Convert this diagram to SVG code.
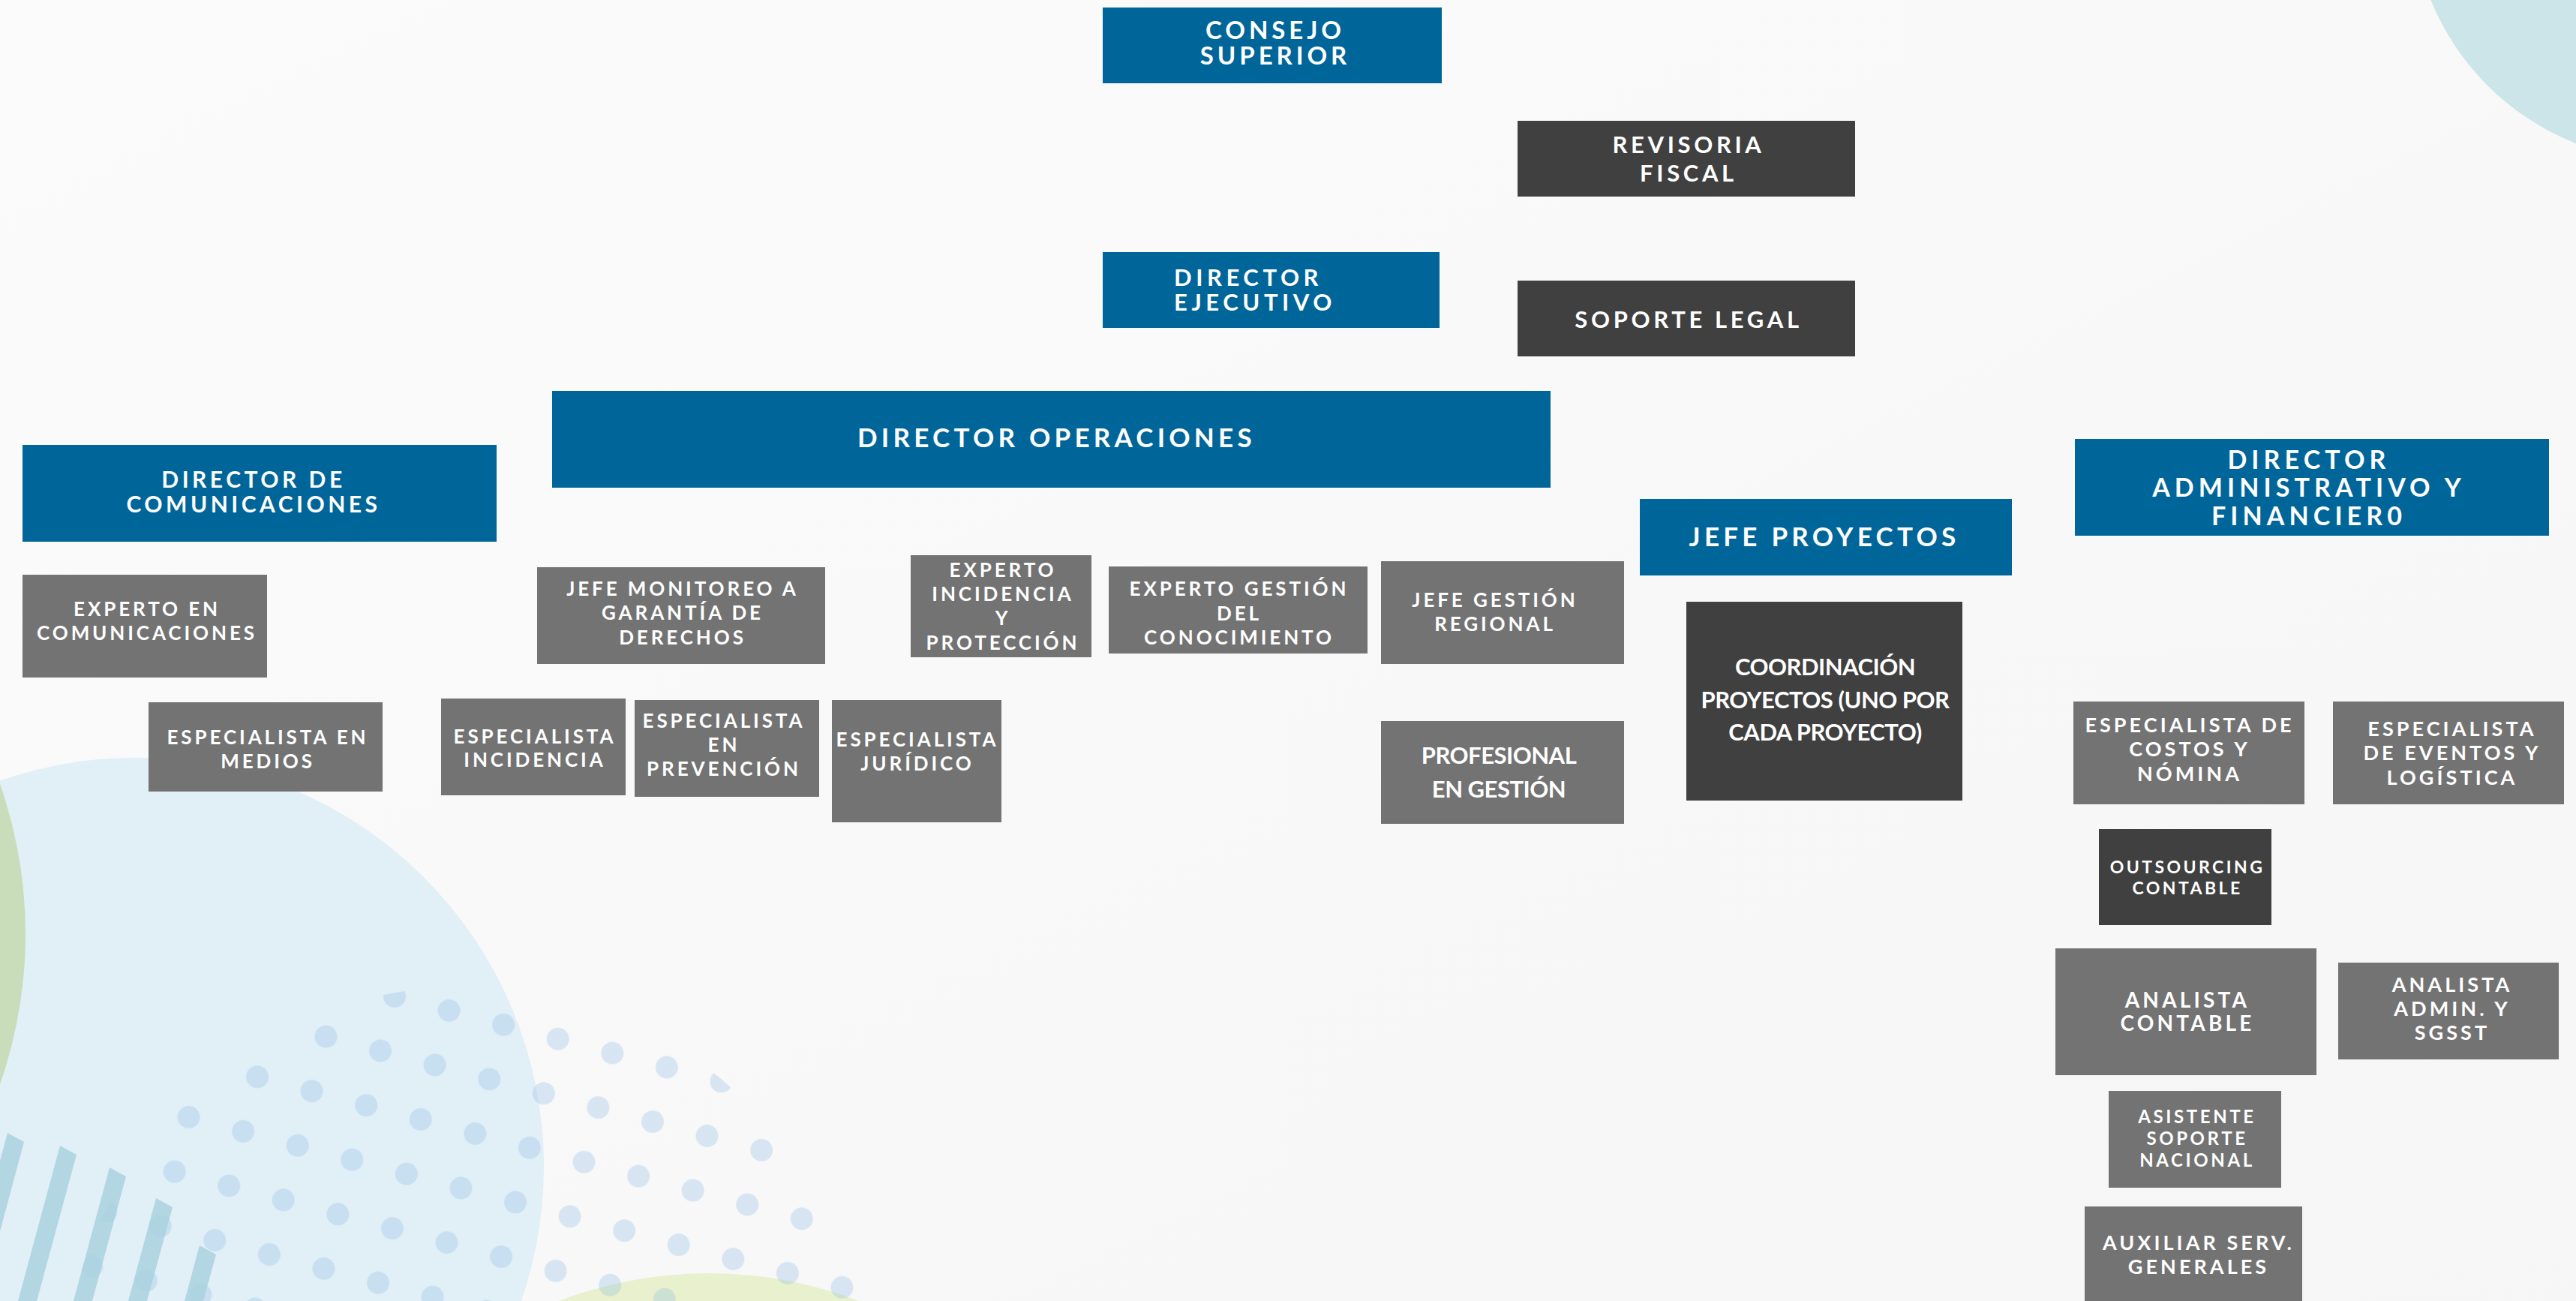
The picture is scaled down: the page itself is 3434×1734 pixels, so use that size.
<svg xmlns="http://www.w3.org/2000/svg" width="3434" height="1734" viewBox="0 0 3434 1734">
<defs>
<style>
.blue{fill:#00669a}
.dark{fill:#404040}
.gray{fill:#737373}
text{font-family:Lato,"Open Sans","Liberation Sans",sans-serif;font-weight:700;fill:#ffffff;text-anchor:middle;letter-spacing:0.15em}
.cond{letter-spacing:-0.5px;font-weight:700}
.wide{letter-spacing:0.18em}
</style>
<linearGradient id="bg" x1="0" y1="0" x2="1" y2="1">
<stop offset="0" stop-color="#fbfbfb"/>
<stop offset="1" stop-color="#f6f6f6"/>
</linearGradient>
<pattern id="dots" patternUnits="userSpaceOnUse" x="-37.5" y="-37.5" width="75" height="75" patternTransform="translate(526 1328) rotate(14.6)">
<circle cx="37.5" cy="37.5" r="15" fill="#8fc0e4" fill-opacity="0.32"/>
</pattern>
</defs>
<rect width="3434" height="1734" fill="url(#bg)"/>
<!-- decorative background -->
<circle cx="3560" cy="-130" r="345" fill="#cbe5e9"/>
<circle cx="180" cy="1555" r="545" fill="#e1eff6"/>
<circle cx="-571" cy="1245" r="605" fill="#c9ddba"/>
<circle cx="945" cy="2256" r="559" fill="#e9f0cd"/>
<circle cx="620" cy="1850" r="535" fill="url(#dots)"/>
<g fill="#a9d2de" fill-opacity="0.85">
<polygon points="10,1510 32,1522 -25,1734 -50,1734"/>
<polygon points="80,1527 102,1539 49,1734 24,1734"/>
<polygon points="146,1556 168,1568 123,1734 98,1734"/>
<polygon points="208,1597 230,1609 196,1734 171,1734"/>
<polygon points="266,1660 288,1672 271,1734 246,1734"/>
</g>
<g id="connectors"></g>
<g id="consejo-superior"><rect class="blue" x="1470" y="10" width="452" height="101"/><text font-size="33"><tspan x="1700" y="52">CONSEJO</tspan><tspan x="1700" y="86">SUPERIOR</tspan></text></g>
<g id="revisoria-fiscal"><rect class="dark" x="2023" y="161" width="450" height="101"/><text font-size="31"><tspan x="2251" y="204">REVISORIA</tspan><tspan x="2251" y="242">FISCAL</tspan></text></g>
<g id="director-ejecutivo"><rect class="blue" x="1470" y="336" width="449" height="101"/><text class="wide" font-size="31" style="text-anchor:start"><tspan x="1565" y="381">DIRECTOR</tspan><tspan x="1565" y="414">EJECUTIVO</tspan></text></g>
<g id="soporte-legal"><rect class="dark" x="2023" y="374" width="450" height="101"/><text x="2251" y="437" font-size="31">SOPORTE LEGAL</text></g>
<g id="director-operaciones"><rect class="blue" x="736" y="521" width="1331" height="129"/><text x="1143" y="596" font-size="35" style="text-anchor:start">DIRECTOR OPERACIONES</text></g>
<g id="director-comunicaciones"><rect class="blue" x="30" y="593" width="632" height="129"/><text font-size="30"><tspan x="338" y="650">DIRECTOR DE</tspan><tspan x="338" y="683">COMUNICACIONES</tspan></text></g>
<g id="jefe-proyectos"><rect class="blue" x="2186" y="665" width="496" height="102"/><text x="2432" y="728" font-size="35">JEFE PROYECTOS</text></g>
<g id="director-administrativo"><rect class="blue" x="2766" y="585" width="632" height="129"/><text class="wide" font-size="34"><tspan x="3078" y="625">DIRECTOR</tspan><tspan x="3078" y="662">ADMINISTRATIVO Y</tspan><tspan x="3078" y="700">FINANCIER0</tspan></text></g>
<g id="experto-comunicaciones"><rect class="gray" x="30" y="766" width="326" height="137"/><text font-size="26"><tspan x="196" y="821">EXPERTO EN</tspan><tspan x="196" y="853">COMUNICACIONES</tspan></text></g>
<g id="jefe-monitoreo"><rect class="gray" x="716" y="756" width="384" height="129"/><text font-size="26"><tspan x="910" y="794">JEFE MONITOREO A</tspan><tspan x="910" y="826">GARANTÍA DE</tspan><tspan x="910" y="859">DERECHOS</tspan></text></g>
<g id="experto-incidencia"><rect class="gray" x="1214" y="740" width="241" height="136"/><text font-size="26"><tspan x="1337" y="769">EXPERTO</tspan><tspan x="1337" y="801">INCIDENCIA</tspan><tspan x="1337" y="833">Y</tspan><tspan x="1337" y="866">PROTECCIÓN</tspan></text></g>
<g id="experto-gestion"><rect class="gray" x="1478" y="755" width="345" height="116"/><text font-size="26"><tspan x="1652" y="794">EXPERTO GESTIÓN</tspan><tspan x="1652" y="827">DEL</tspan><tspan x="1652" y="859">CONOCIMIENTO</tspan></text></g>
<g id="jefe-gestion-regional"><rect class="gray" x="1841" y="748" width="324" height="137"/><text font-size="26"><tspan x="1993" y="809">JEFE GESTIÓN</tspan><tspan x="1993" y="841">REGIONAL</tspan></text></g>
<g id="coordinacion-proyectos"><rect class="dark" x="2248" y="802" width="368" height="265"/><text class="cond" font-size="31"><tspan x="2433" y="900">COORDINACIÓN</tspan><tspan x="2433" y="944">PROYECTOS (UNO POR</tspan><tspan x="2433" y="987">CADA PROYECTO)</tspan></text></g>
<g id="especialista-medios"><rect class="gray" x="198" y="936" width="312" height="119"/><text font-size="26"><tspan x="357" y="992">ESPECIALISTA EN</tspan><tspan x="357" y="1024">MEDIOS</tspan></text></g>
<g id="especialista-incidencia"><rect class="gray" x="588" y="931" width="246" height="129"/><text font-size="26"><tspan x="713" y="991">ESPECIALISTA</tspan><tspan x="713" y="1022">INCIDENCIA</tspan></text></g>
<g id="especialista-prevencion"><rect class="gray" x="846" y="933" width="246" height="129"/><text font-size="26"><tspan x="965" y="970">ESPECIALISTA</tspan><tspan x="965" y="1002">EN</tspan><tspan x="965" y="1034">PREVENCIÓN</tspan></text></g>
<g id="especialista-juridico"><rect class="gray" x="1109" y="933" width="226" height="163"/><text font-size="26"><tspan x="1223" y="995">ESPECIALISTA</tspan><tspan x="1223" y="1027">JURÍDICO</tspan></text></g>
<g id="profesional-gestion"><rect class="gray" x="1841" y="961" width="324" height="137"/><text class="cond" font-size="31"><tspan x="1998" y="1018">PROFESIONAL</tspan><tspan x="1998" y="1063">EN GESTIÓN</tspan></text></g>
<g id="especialista-costos"><rect class="gray" x="2764" y="935" width="308" height="137"/><text font-size="27"><tspan x="2919" y="976">ESPECIALISTA DE</tspan><tspan x="2919" y="1008">COSTOS Y</tspan><tspan x="2919" y="1041">NÓMINA</tspan></text></g>
<g id="especialista-eventos"><rect class="gray" x="3110" y="935" width="308" height="137"/><text font-size="27"><tspan x="3269" y="981">ESPECIALISTA</tspan><tspan x="3269" y="1013">DE EVENTOS Y</tspan><tspan x="3269" y="1046">LOGÍSTICA</tspan></text></g>
<g id="outsourcing-contable"><rect class="dark" x="2798" y="1105" width="230" height="128"/><text font-size="23"><tspan x="2916" y="1164">OUTSOURCING</tspan><tspan x="2916" y="1192">CONTABLE</tspan></text></g>
<g id="analista-contable"><rect class="gray" x="2740" y="1264" width="348" height="169"/><text font-size="28"><tspan x="2916" y="1343">ANALISTA</tspan><tspan x="2916" y="1374">CONTABLE</tspan></text></g>
<g id="analista-admin"><rect class="gray" x="3117" y="1283" width="294" height="129"/><text font-size="27"><tspan x="3269" y="1322">ANALISTA</tspan><tspan x="3269" y="1354">ADMIN. Y</tspan><tspan x="3269" y="1386">SGSST</tspan></text></g>
<g id="asistente-soporte"><rect class="gray" x="2811" y="1454" width="230" height="129"/><text font-size="24"><tspan x="2929" y="1497">ASISTENTE</tspan><tspan x="2929" y="1526">SOPORTE</tspan><tspan x="2929" y="1555">NACIONAL</tspan></text></g>
<g id="auxiliar-servicios"><rect class="gray" x="2779" y="1608" width="290" height="140"/><text font-size="27"><tspan x="2931" y="1666">AUXILIAR SERV.</tspan><tspan x="2931" y="1698">GENERALES</tspan></text></g>
</svg>
